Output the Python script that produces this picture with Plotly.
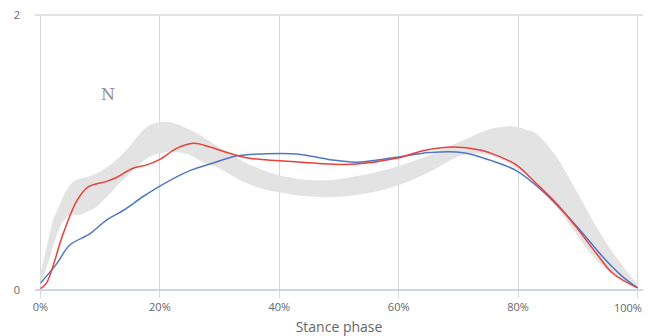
import plotly.graph_objects as go

# Red series
red_x = [0, 1.0, 3.8, 6.1, 8.0, 11.1, 12.8, 15.5, 17.8, 20, 22.8, 25.6, 28.4, 31.7, 35.1, 40.1, 48.5,
         52.9, 59.6, 64.1, 69.1, 73.6, 76.9, 79.7, 83.0, 86.4, 89.7, 93.1, 95.9, 100]
red_y = [0.01, 0.05, 0.41, 0.65, 0.75, 0.79, 0.82, 0.885, 0.91, 0.95, 1.03, 1.067, 1.04, 0.994, 0.958, 0.94, 0.916,
         0.916, 0.958, 1.013, 1.04, 1.018, 0.97, 0.91, 0.776, 0.63, 0.46, 0.267, 0.12, 0.015]

# Blue series
blue_x = [0, 2.7, 4.9, 8.3, 11.1, 13.9, 17.2, 20, 25, 28.4, 32.8, 37.3, 42.9, 48.5,
          52.9, 59.6, 65.2, 70.8, 75.2, 79.7, 84.2, 89.7, 94.2, 97.5, 100]
blue_y = [0.05, 0.19, 0.327, 0.41, 0.51, 0.58, 0.68, 0.756, 0.868, 0.916, 0.975, 0.99, 0.99, 0.948,
          0.93, 0.965, 1.0, 0.999, 0.945, 0.868, 0.715, 0.47, 0.24, 0.097, 0.015]

# Normal band
band_x = [0, 1.6, 2.1, 3.3, 3.8, 4.9, 5.5, 6.6, 7.7, 9.4, 10, 12.2, 13.3, 15, 16.7, 18.3, 20.6, 21.7, 23.3,
          25, 27.2, 29.5, 31.7, 33.9, 37.3, 39.5, 42.9, 45.1, 48.5, 54, 59.6, 65.2, 70.8, 75.2, 77.5, 79.1,
          81.9, 83.0, 86.4, 89.7, 93.1, 96.4, 100]
band_upper = [0.12, 0.42, 0.51, 0.63, 0.68, 0.76, 0.79, 0.81, 0.82, 0.85, 0.86, 0.93, 0.97, 1.05, 1.14, 1.2,
              1.224, 1.22, 1.2, 1.165, 1.115, 1.05, 0.994, 0.935, 0.873, 0.84, 0.81, 0.80, 0.80, 0.836, 0.897,
              0.982, 1.09, 1.17, 1.185, 1.19, 1.16, 1.14, 0.97, 0.727, 0.46, 0.24, 0.04]
band_lower = [0.03, 0.24, 0.32, 0.46, 0.5, 0.545, 0.55, 0.545, 0.565, 0.606, 0.63, 0.727, 0.78, 0.85, 0.92,
              0.97, 1.0, 1.006, 1.0, 0.982, 0.93, 0.897, 0.84, 0.79, 0.735, 0.715, 0.69, 0.68, 0.675, 0.698,
              0.756, 0.86, 0.982, 0.982, 0.945, 0.9, 0.824, 0.77, 0.606, 0.41, 0.218, 0.097, 0.015]

x_ticks = [0, 20, 40, 60, 80, 100]
x_tick_labels = ["0%", "20%", "40%", "60%", "80%", "100%"]
y_ticks = [0, 2]
y_tick_labels = ["0", "2"]

fig = go.Figure()
fig.add_trace(go.Scatter(x=band_x, y=band_lower, mode="lines", line=dict(width=0, shape="spline"),
                         hoverinfo="skip", showlegend=False))
fig.add_trace(go.Scatter(x=band_x, y=band_upper, mode="lines", line=dict(width=0, shape="spline"),
                         fill="tonexty", fillcolor="#e3e3e3", hoverinfo="skip", showlegend=False))
fig.add_trace(go.Scatter(x=blue_x, y=blue_y, mode="lines",
                         line=dict(color="#4f78c4", width=1.5, shape="spline"), showlegend=False))
fig.add_trace(go.Scatter(x=red_x, y=red_y, mode="lines",
                         line=dict(color="#e8403a", width=1.5, shape="spline"), showlegend=False))

fig.add_annotation(x=11.3, y=1.42, text="N", showarrow=False,
                   font=dict(family="DejaVu Serif", size=16, color="#909090"))

# last x label is kept inside the chart edge, as in the reference
fig.add_annotation(x=x_ticks[-1], xref="x", y=0, yref="paper", text=x_tick_labels[-1],
                   showarrow=False, xanchor="right", yanchor="middle", xshift=6, yshift=-17,
                   font=dict(family="Open Sans", size=11, color="#666666"))

# page body has an 8px default margin, so the figure is 8px smaller
fig.update_layout(
    width=645, height=328,
    margin=dict(l=27, r=10, t=7, b=46, autoexpand=False),
    plot_bgcolor="white", paper_bgcolor="white",
    font=dict(family="Open Sans", color="#666666"),
    xaxis=dict(range=[-0.92, 100.92], tickvals=x_ticks, ticktext=x_tick_labels[:-1] + [""],
               showgrid=True, gridcolor="#d8d8d8", gridwidth=1, zeroline=False,
               ticks="outside", ticklen=7, tickcolor="#d8d8d8", automargin=False,
               showline=False, tickfont=dict(size=11, color="#666666"), ticklabeloverflow="allow",
               title=dict(text="Stance phase", font=dict(size=14, color="#666666"), standoff=8)),
    yaxis=dict(range=[0, 2], tickvals=y_ticks, ticktext=y_tick_labels, automargin=False,
               showgrid=True, gridcolor="#d8d8d8", gridwidth=1.5, zeroline=False,
               ticklabeloverflow="allow",
               showline=False, ticklabelstandoff=14, tickfont=dict(size=11, color="#666666")),
)
fig.add_shape(type="line", xref="paper", yref="paper", x0=0, x1=1, y0=0, y1=0,
              line=dict(color="#ccd6eb", width=2), layer="above")
fig.add_shape(type="line", xref="paper", yref="paper", x0=0, x1=1, y0=1, y1=1,
              line=dict(color="#d8d8d8", width=1.5), layer="above")

fig.write_html("out.html")
